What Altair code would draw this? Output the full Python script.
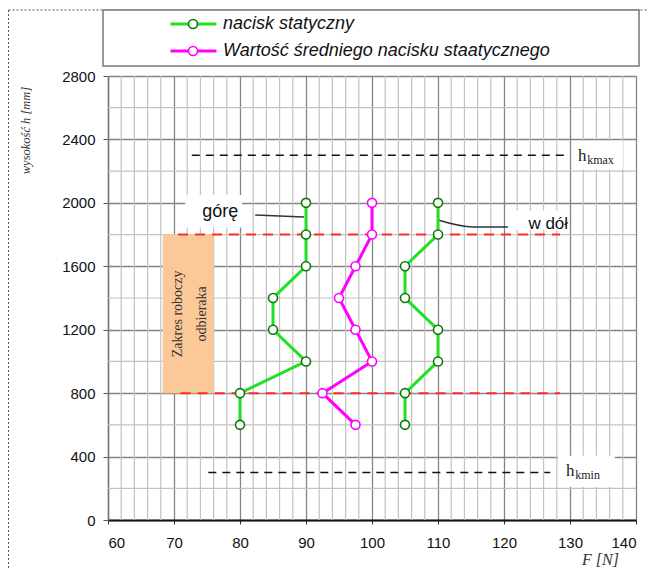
import altair as alt
import pandas as pd

# ---------------- data ----------------
heights = [2000, 1800, 1600, 1400, 1200, 1000, 800, 600]
force_up = [90, 90, 90, 85, 85, 90, 80, 80]          # "górę"
force_down = [110, 110, 105, 105, 110, 110, 105, 105]  # "w dół"
force_mean = [100, 100, 97.5, 95, 97.5, 100, 92.5, 97.5]

S1 = "nacisk statyczny"
S2 = "Wartość średniego nacisku staatycznego"

x_major = [60, 70, 80, 90, 100, 110, 120, 130, 140]
x_minor = [v for v in range(62, 140, 2) if v % 10 != 0]
y_major = [0, 400, 800, 1200, 1600, 2000, 2400, 2800]
y_minor = [200, 600, 1000, 1400, 1800, 2200, 2600]

red_h = [1800, 800]
red_f1 = [70.6, 71.0]
red_f2 = [128.5, 128.5]

black_h = [2300, 300]
black_f1 = [72.7, 75.2]
black_f2 = [129.7, 127.0]

zone_f = [68.3, 76.0]
zone_h = [800, 1800]
zone_text = ["Zakres roboczy", "odbieraka"]
zone_text_f = [70.6, 74.2]
zone_text_h = [1300, 1300]

# white label boxes: f1, f2, h1, h2
box_f1 = [71.7, 121.6, 130.3, 128.2]
box_f2 = [80.3, 129.7, 138.0, 136.8]
box_h1 = [1845, 1830, 2210, 210]
box_h2 = [2050, 1950, 2390, 405]

note_text = ["górę", "w dół"]
note_f = [77.0, 126.7]
note_h = [1943, 1867]
note_size = [18, 17]

h_main_text = ["h", "h"]
h_main_f = [131.2, 129.4]
h_main_h = [2264, 277]
h_sub_text = ["kmax", "kmin"]
h_sub_f = [132.6, 130.8]
h_sub_h = [2245, 259]

leader_id = [1, 1, 2, 2, 2]
leader_f = [82.3, 89.7, 110.0, 115.3, 120.6]
leader_h = [1923, 1911, 1892, 1848, 1848]
leader_ord = [0, 1, 0, 1, 2]

GREEN = "#22e022"
DKGREEN = "#0a7a0a"
MAGENTA = "#ff00ff"
SANS = "Liberation Sans"
SERIF = "Liberation Serif"

rows = []
for grp, series, vals in [("up", S1, force_up), ("down", S1, force_down), ("mean", S2, force_mean)]:
    for h, f in zip(heights, vals):
        rows.append({"group": grp, "series": series, "F": f, "h": h})
df = pd.DataFrame(rows)

xscale = alt.Scale(domain=[60, 140], nice=False, zero=False)
yscale = alt.Scale(domain=[0, 2800], nice=False)

xaxis = alt.Axis(values=x_major, format="d", grid=True, gridColor="#858585", gridWidth=1.3,
                 domainColor="#111111", domainWidth=2, tickColor="#333333", tickSize=4,
                 labelFont=SANS, labelFontSize=15, labelColor="#111111", labelPadding=11,
                 title="F [N]", titleFont=SERIF, titleFontStyle="italic", titleFontWeight="normal",
                 titleFontSize=16, titleColor="#333333", titleX=492, titleY=39,
                 titleAlign="center", titleBaseline="middle")
yaxis = alt.Axis(values=y_major, format="d", grid=True, gridColor="#858585", gridWidth=1.3,
                 domainColor="#777777", domainWidth=1.5, tickColor="#555555", tickSize=5,
                 labelFont=SANS, labelFontSize=15, labelColor="#111111", labelPadding=8,
                 title="wysokość h [mm]", titleFont=SERIF, titleFontStyle="italic",
                 titleFontWeight="normal", titleFontSize=12.5, titleColor="#333333",
                 titleAngle=270, titleX=-83, titleY=54, titleAlign="center", titleBaseline="middle")

X = alt.X("F:Q", scale=xscale, axis=xaxis)
Y = alt.Y("h:Q", scale=yscale, axis=yaxis)

dummy = pd.DataFrame({"k": [0]})

# decorations outside plot (frame + legend box)
frame_left = alt.Chart(dummy).mark_rule(color="#555555", strokeWidth=1, strokeDash=[2, 2]).encode(
    x=alt.value(-99.5), y=alt.value(-66), y2=alt.value(492))
frame_top = alt.Chart(dummy).mark_rule(color="#555555", strokeWidth=1, strokeDash=[2, 2]).encode(
    x=alt.value(-99.5), x2=alt.value(539), y=alt.value(-66))
legend_box = alt.Chart(dummy).mark_rect(fill="white", stroke="#777777", strokeWidth=1.5).encode(
    x=alt.value(-5), x2=alt.value(531), y=alt.value(-66), y2=alt.value(-10))

minor_x = alt.Chart(pd.DataFrame({"F": x_minor})).mark_rule(color="#c2c2c2", strokeWidth=1.2).encode(
    x=alt.X("F:Q", scale=xscale, axis=xaxis))
minor_y = alt.Chart(pd.DataFrame({"h": y_minor})).mark_rule(color="#c2c2c2", strokeWidth=1.2).encode(
    y=alt.Y("h:Q", scale=yscale, axis=yaxis))

boxes = alt.Chart(pd.DataFrame({"f1": box_f1, "f2": box_f2, "h1": box_h1, "h2": box_h2})).mark_rect(
    fill="white").encode(x=alt.X("f1:Q", scale=xscale, axis=xaxis), x2="f2:Q",
                         y=alt.Y("h1:Q", scale=yscale, axis=yaxis), y2="h2:Q")

zone = alt.Chart(pd.DataFrame({"f1": [zone_f[0]], "f2": [zone_f[1]], "h1": [zone_h[0]], "h2": [zone_h[1]]})).mark_rect(
    fill="#fbc897").encode(x=alt.X("f1:Q", scale=xscale, axis=xaxis), x2="f2:Q",
                           y=alt.Y("h1:Q", scale=yscale, axis=yaxis), y2="h2:Q")
zone_lbl = alt.Chart(pd.DataFrame({"t": zone_text, "F": zone_text_f, "h": zone_text_h})).mark_text(
    angle=270, font=SERIF, fontSize=14, color="#333333", align="center", baseline="middle").encode(
    x=X, y=Y, text="t:N")

red_lines = alt.Chart(pd.DataFrame({"h": red_h, "f1": red_f1, "f2": red_f2})).mark_rule(
    color="#ff2a2a", strokeWidth=2, strokeDash=[10, 7]).encode(
    x=alt.X("f1:Q", scale=xscale, axis=xaxis), x2="f2:Q", y=Y)
black_lines = alt.Chart(pd.DataFrame({"h": black_h, "f1": black_f1, "f2": black_f2})).mark_rule(
    color="#111111", strokeWidth=1.5, strokeDash=[8, 6]).encode(
    x=alt.X("f1:Q", scale=xscale, axis=xaxis), x2="f2:Q", y=Y)

leaders = alt.Chart(pd.DataFrame({"id": leader_id, "F": leader_f, "h": leader_h, "o": leader_ord})).mark_line(
    color="#333333", strokeWidth=1.5, interpolate="monotone").encode(x=X, y=Y, detail="id:N", order="o:Q")

notes = alt.Chart(pd.DataFrame({"t": note_text, "F": note_f, "h": note_h, "s": note_size})).mark_text(
    font=SANS, color="#111111", align="center", baseline="middle").encode(
    x=X, y=Y, text="t:N", size=alt.Size("s:Q", scale=None, legend=None))

hmain = alt.Chart(pd.DataFrame({"t": h_main_text, "F": h_main_f, "h": h_main_h})).mark_text(
    font=SERIF, fontSize=17, color="#222222", align="left", baseline="alphabetic").encode(x=X, y=Y, text="t:N")
hsub = alt.Chart(pd.DataFrame({"t": h_sub_text, "F": h_sub_f, "h": h_sub_h})).mark_text(
    font=SERIF, fontSize=12, color="#222222", align="left", baseline="alphabetic").encode(x=X, y=Y, text="t:N")

legend_common = dict(title=None, orient="none", legendX=61, legendY=-65.5, padding=0,
                     clipHeight=27, rowPadding=0, symbolSize=2116, labelOffset=5,
                     labelFont=SANS, labelFontStyle="italic", labelFontSize=18,
                     labelColor="#111111", labelLimit=0, direction="vertical")

lines = alt.Chart(df).mark_line(strokeWidth=3).encode(
    x=X, y=Y,
    color=alt.Color("series:N", scale=alt.Scale(domain=[S1, S2], range=[GREEN, MAGENTA]),
                    legend=alt.Legend(symbolType="stroke", symbolStrokeWidth=3, **legend_common)),
    detail="group:N", order="h:Q")

circle_path = "M0.196,0A0.196,0.196,0,1,1,-0.196,0A0.196,0.196,0,1,1,0.196,0Z"
points = alt.Chart(df).mark_point(shape="circle", size=81, filled=False, fill="white",
                                  strokeWidth=1.6, opacity=1).encode(
    x=X, y=Y,
    stroke=alt.Stroke("series:N", scale=alt.Scale(domain=[S1, S2], range=[DKGREEN, MAGENTA]),
                      legend=alt.Legend(symbolType=circle_path, symbolStrokeWidth=1.6,
                                        symbolFillColor="white", labelOpacity=0, **legend_common)))

chart = alt.layer(
    frame_left, frame_top, legend_box, minor_x, minor_y, boxes, zone, zone_lbl,
    red_lines, black_lines, leaders, notes, hmain, hsub, lines, points
).resolve_scale(color="independent", stroke="independent").properties(
    width=528, height=444,
    autosize=alt.AutoSizeParams(type="none"),
    padding={"left": 100, "top": 68, "right": 11, "bottom": 48},
).configure_view(stroke=None).configure(background="white")

chart.save("out.html", embed_options={"renderer": "svg", "actions": False})
